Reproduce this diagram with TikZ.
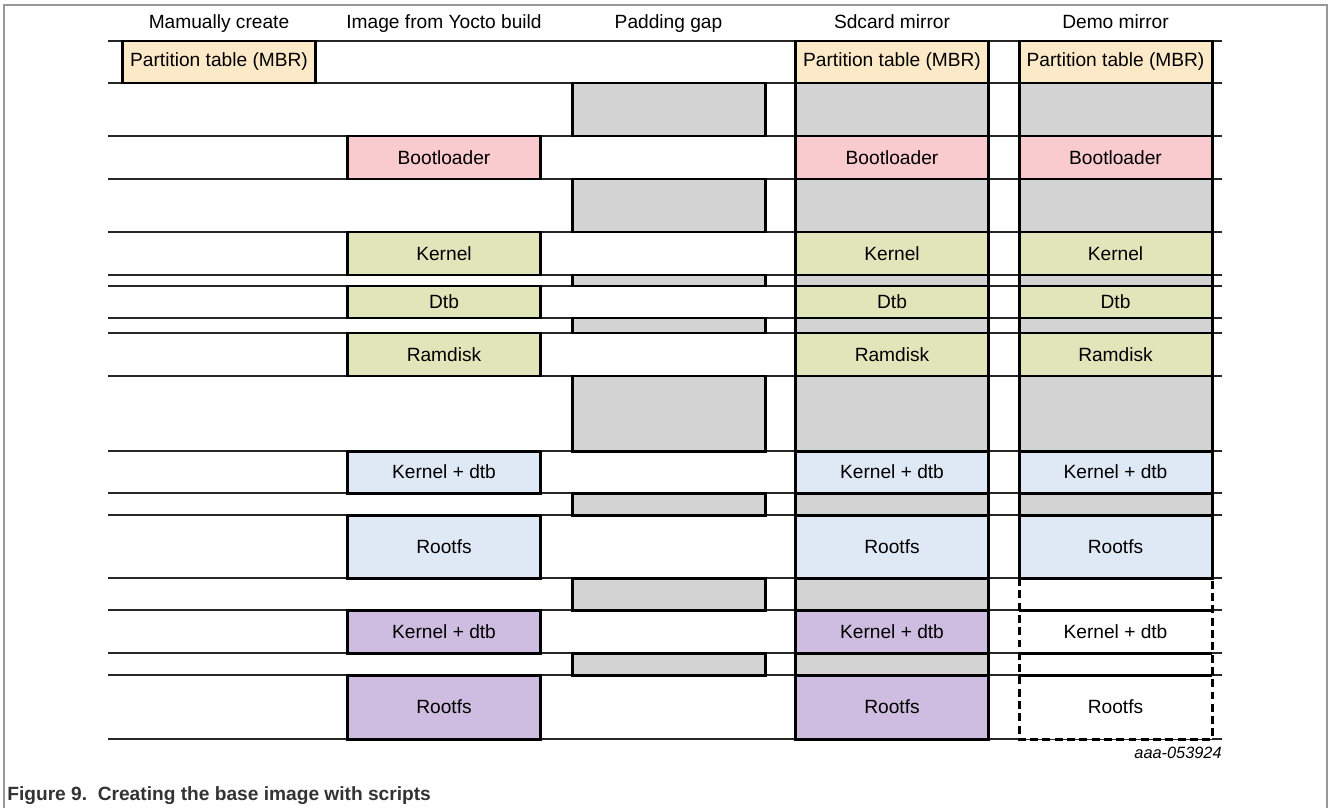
\documentclass[tikz,border=0pt]{standalone}
\usepackage{fontspec}
\setmainfont{Liberation Sans}
\definecolor{cMbr}{HTML}{FCE9C8}
\definecolor{cBoot}{HTML}{F9CACE}
\definecolor{cKern}{HTML}{E0E5BA}
\definecolor{cGap}{HTML}{D3D3D3}
\definecolor{cBlue}{HTML}{DFE9F5}
\definecolor{cPurp}{HTML}{CEBDE1}
% name, column centre, top, bottom, fill, text
\newcommand\cell[6]{%
  \fill[#5] ({#2-96.5},#3) rectangle ({#2+96.5},#4);
  \draw[edge] ({#2-96.5},#3) -- ({#2+96.5},#3) -- ({#2+96.5},#4) -- ({#2-96.5},#4) -- cycle;
  \node[lbl] (#1) at (#2,{(#3+#4)/2}) {#6};}
\begin{document}
\begin{tikzpicture}[x=0.02cm,y=-0.02cm,line join=miter,
  edge/.style={draw=black,line width=1.7pt},
  lbl/.style={inner sep=0pt,font=\fontsize{10.9}{12}\selectfont},
  rowline/.style={line width=0.6pt,black!85},
  hdr/.style={anchor=base,inner sep=0pt,font=\fontsize{10.9}{12}\selectfont}]
  \useasboundingbox (0,0) rectangle (1328,808);
  \draw[black!40,line width=0.7pt] (4,808) -- (4,5) -- (1327,5) -- (1327,808);
  \foreach \y in {41,83,136,179,232,275,286,318,333,376,451,493,515,578,610,653,675,739}
    \draw[rowline] (108,\y) -- (1222,\y);
  \foreach \x/\nm/\txt in {219/man/Mamually create,444/yocto/Image from Yocto build,
      668.5/pad/Padding gap,892/sd/Sdcard mirror,1115.5/demo/Demo mirror}
    \node[hdr] (h-\nm) at (\x,29) {\txt};
  % partition table
  \foreach \x/\nm in {219/man,892/sd,1115.5/demo}
    \cell{\nm-mbr}{\x}{41}{83}{cMbr}{Partition table (MBR)}
  % images from the build
  \foreach \t/\b/\nm/\c/\txt in {136/179/boot/cBoot/Bootloader,232/275/kern/cKern/Kernel,
      286/318/dtb/cKern/Dtb,333/376/ramd/cKern/Ramdisk,451/493/kdA/cBlue/Kernel + dtb,
      515/578/rfsA/cBlue/Rootfs,610/653/kdB/cPurp/Kernel + dtb,675/739/rfsB/cPurp/Rootfs}{
    \cell{yocto-\nm}{444}{\t}{\b}{\c}{\txt}
    \cell{sd-\nm}{892}{\t}{\b}{\c}{\txt}
  }
  \foreach \t/\b/\nm/\c/\txt in {136/179/boot/cBoot/Bootloader,232/275/kern/cKern/Kernel,
      286/318/dtb/cKern/Dtb,333/376/ramd/cKern/Ramdisk,451/493/kdA/cBlue/Kernel + dtb,
      515/578/rfsA/cBlue/Rootfs}
    \cell{demo-\nm}{1115.5}{\t}{\b}{\c}{\txt}
  % padding gaps
  \foreach \t/\b/\n in {83/136/1,179/232/2,275/286/3,318/333/4,376/451/5,493/515/6,578/610/7,653/675/8}{
    \cell{pad-\n}{668.5}{\t}{\b}{cGap}{}
    \cell{sd-gap\n}{892}{\t}{\b}{cGap}{}
  }
  \foreach \t/\b/\n in {83/136/1,179/232/2,275/286/3,318/333/4,376/451/5,493/515/6}
    \cell{demo-gap\n}{1115.5}{\t}{\b}{cGap}{}
  % demo mirror, not filled in
  \fill[white] (1019,578) rectangle (1212,739);
  \draw[edge,dash pattern=on 4.5pt off 2.5pt] (1019,578) -- (1019,739) -- (1212,739) -- (1212,578);
  \foreach \y in {578,610,653,675}
    \draw[edge] (1019,\y) -- (1212,\y);
  \node[lbl] (demo-kdB) at (1115.5,631.5) {Kernel + dtb};
  \node[lbl] (demo-rfsB) at (1115.5,707) {Rootfs};
  \node[anchor=east,inner sep=0pt,font=\fontsize{9.3}{10}\itshape] (tag) at (1222,753) {aaa-053924};
  \node[anchor=base west,inner sep=0pt,text=black!80,font=\fontsize{10.9}{12}\bfseries] (caption) at (7,800)
    {Figure 9.\ \ Creating the base image with scripts};
\end{tikzpicture}
\end{document}
